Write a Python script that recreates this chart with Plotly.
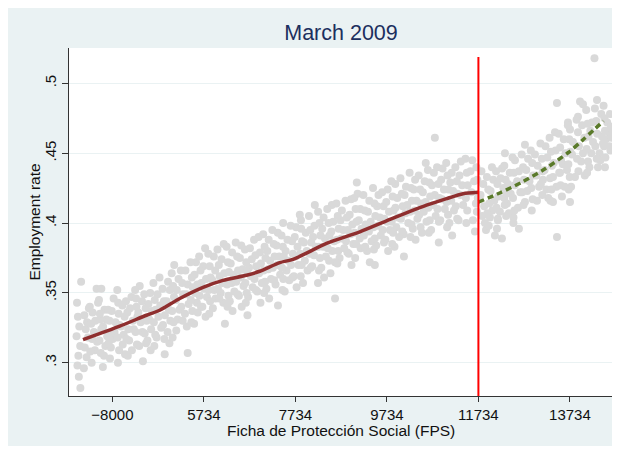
import plotly.graph_objects as go

# ---------------- data ----------------
title_text = "March 2009"
x_label = "Ficha de Protección Social (FPS)"
y_label = "Employment rate"

x_tick_vals = [3734, 5734, 7734, 9734, 11734, 13734]
x_tick_text = ["\u22128000", "5734", "7734", "9734", "11734", "13734"]
y_tick_vals = [0.30, 0.35, 0.40, 0.45, 0.50]
y_tick_text = [".3", ".35", ".4", ".45", ".5"]

cutoff = 11734

fps_a = [
    3050, 2960, 2980, 3010, 2950, 3030, 2990, 2970, 3000, 3033,
    3120, 3180, 3150, 3200, 3130, 3170, 3110, 3220,
    3388, 3300, 3360, 3330, 3400, 3350, 3526, 3420,
    3492, 3560, 3600, 3530, 3620, 3580, 3550,
    3760, 3720, 3800, 3780, 3740, 3855, 3700,
    3950, 4000, 3920, 3980, 3960, 4010,
    4150, 4120, 4180, 4200, 4100, 4160,
    4331, 4380, 4300, 4350, 4390, 4320, 4401,
    4560, 4520, 4600, 4540, 4580, 4500, 4570,
    4764, 4720, 4780, 4740, 4800, 4700, 4877,
    4950, 4990, 4920, 4970, 5000, 4940, 4980,
    5085, 5180, 5140, 5120, 5200, 5160, 5130,
    5330, 5380, 5350, 5400, 5320, 5360, 5379,
    5560, 5530, 5590, 5540, 5580, 5600, 5520,
    5760, 5720, 5780, 5740, 5800, 5700, 5770,
    5950, 5980, 5920, 5960, 5990, 5930,
    6167, 6120, 6180, 6140, 6100, 6160, 6193,
    6350, 6320, 6380, 6340, 6400, 6300, 6360,
    6550, 6520, 6580, 6540, 6600, 6500, 6560,
    6740, 6780, 6720, 6760, 6800, 6700, 6686,
    6929, 6960, 6980, 6940, 7000, 6900, 6970,
    7150, 7120, 7180, 7140, 7200, 7100, 7160,
    7350, 7320, 7380, 7340, 7400, 7300, 7353,
    7466, 7560, 7520, 7580, 7540, 7600, 7500,
    7750, 7720, 7780, 7740, 7800, 7700, 7760,
    7855, 7960, 7920, 7980, 7940, 8000, 7900,
    8158, 8150, 8120, 8180, 8140, 8100, 8228,
    8350, 8320, 8380, 8340, 8400, 8300, 8360,
    8530, 8560, 8520, 8580, 8540, 8600, 8500,
    8750, 8720, 8780, 8740, 8800, 8700, 8600,
    8950, 8920, 8980, 8940, 9000, 8900, 8960,
    9076, 9093, 9150, 9120, 9180, 9140, 9160,
    9350, 9320, 9380, 9340, 9400, 9300, 9360,
    9550, 9520, 9580, 9540, 9600, 9500, 9470,
    9750, 9720, 9780, 9740, 9800, 9700, 9760,
    9916, 9960, 9920, 9980, 9940, 10000, 9900,
    10150, 10120, 10180, 10140, 10200, 10100, 10106,
    10350, 10320, 10380, 10340, 10400, 10300, 10360,
    10583, 10560, 10520, 10580, 10540, 10600, 10500,
    10782, 10760, 10720, 10780, 10740, 10800, 10700,
    10950, 10920, 10980, 10940, 11000, 10900, 10868,
    11150, 11120, 11180, 11140, 11200, 11100, 11160,
    11350, 11320, 11380, 11340, 11400, 11300,
    11600, 11560, 11640, 11580, 11680, 11614, 11658,
    11800, 11840, 11780, 11860, 11820, 11877, 11900,
    12030, 12060, 12000, 12080, 12040, 11986, 12095,
    12250, 12220, 12280, 12300, 12204, 12160, 12248,
    12314, 12420, 12380, 12440, 12357, 12400,
    12533, 12620, 12580, 12650, 12598, 12500, 12620,
    12751, 12820, 12780, 12850, 12800, 12751,
    12970, 13030, 13000, 13060, 13014,
    13200, 13240, 13180, 13145, 13220, 13260,
    13451, 13408, 13420, 13380, 13364, 13440, 13364, 13451,
    13692, 13600, 13640, 13580, 13517, 13620, 13560,
    13911, 13736, 13800, 13780, 13670, 13845, 13760, 13736,
    13955, 14020, 14000, 14050, 14020, 13980, 14060,
    14271, 14217, 14180, 14240, 14200, 14160,
    14326, 14420, 14435, 14457, 14380, 14348, 14400,
    14550, 14580, 14520, 14600, 14500,
]

employment_a = [
    0.358, 0.343, 0.333, 0.326, 0.319, 0.312, 0.305, 0.298, 0.290, 0.282,
    0.334, 0.329, 0.324, 0.318, 0.311, 0.304, 0.296, 0.339,
    0.353, 0.336, 0.330, 0.322, 0.315, 0.309, 0.297, 0.343,
    0.353, 0.338, 0.331, 0.326, 0.319, 0.312, 0.305,
    0.346, 0.337, 0.329, 0.322, 0.317, 0.300, 0.311,
    0.341, 0.333, 0.326, 0.320, 0.313, 0.306,
    0.347, 0.339, 0.330, 0.324, 0.316, 0.309,
    0.355, 0.344, 0.336, 0.329, 0.322, 0.312, 0.301,
    0.350, 0.342, 0.337, 0.331, 0.324, 0.316, 0.309,
    0.361, 0.349, 0.341, 0.333, 0.325, 0.318, 0.306,
    0.358, 0.352, 0.344, 0.338, 0.330, 0.322, 0.314,
    0.370, 0.360, 0.352, 0.345, 0.338, 0.331, 0.323,
    0.366, 0.356, 0.349, 0.342, 0.335, 0.326, 0.307,
    0.372, 0.363, 0.356, 0.350, 0.343, 0.336, 0.328,
    0.382, 0.369, 0.360, 0.353, 0.347, 0.340, 0.333,
    0.376, 0.366, 0.359, 0.352, 0.346, 0.339,
    0.385, 0.374, 0.364, 0.357, 0.350, 0.343, 0.328,
    0.379, 0.371, 0.363, 0.357, 0.351, 0.344, 0.337,
    0.384, 0.375, 0.367, 0.361, 0.355, 0.348, 0.340,
    0.382, 0.374, 0.368, 0.362, 0.354, 0.347, 0.334,
    0.390, 0.379, 0.371, 0.364, 0.357, 0.351, 0.343,
    0.388, 0.380, 0.373, 0.367, 0.360, 0.353, 0.346,
    0.393, 0.384, 0.376, 0.370, 0.363, 0.356, 0.341,
    0.400, 0.388, 0.380, 0.373, 0.366, 0.359, 0.351,
    0.397, 0.390, 0.383, 0.376, 0.370, 0.362, 0.354,
    0.402, 0.393, 0.386, 0.380, 0.373, 0.366, 0.357,
    0.413, 0.398, 0.390, 0.383, 0.377, 0.369, 0.357,
    0.404, 0.396, 0.389, 0.383, 0.376, 0.368, 0.361,
    0.413, 0.401, 0.394, 0.387, 0.380, 0.372, 0.364,
    0.409, 0.402, 0.395, 0.389, 0.382, 0.375, 0.346,
    0.417, 0.406, 0.399, 0.392, 0.385, 0.378, 0.370,
    0.429, 0.421, 0.410, 0.402, 0.396, 0.389, 0.382,
    0.416, 0.408, 0.401, 0.394, 0.387, 0.380, 0.372,
    0.420, 0.412, 0.404, 0.398, 0.391, 0.384, 0.370,
    0.424, 0.415, 0.408, 0.401, 0.395, 0.388, 0.380,
    0.428, 0.418, 0.411, 0.404, 0.397, 0.390, 0.383,
    0.426, 0.420, 0.413, 0.407, 0.400, 0.392, 0.376,
    0.431, 0.424, 0.416, 0.409, 0.403, 0.396, 0.388,
    0.443, 0.430, 0.422, 0.415, 0.408, 0.401, 0.393,
    0.461, 0.436, 0.427, 0.420, 0.413, 0.405, 0.395,
    0.439, 0.431, 0.424, 0.417, 0.410, 0.402, 0.386,
    0.436, 0.429, 0.423, 0.416, 0.409, 0.400, 0.391,
    0.444, 0.434, 0.427, 0.420, 0.413, 0.402,
    0.445, 0.437, 0.430, 0.422, 0.414, 0.402, 0.394,
    0.437, 0.428, 0.420, 0.412, 0.405, 0.400, 0.395,
    0.440, 0.431, 0.423, 0.416, 0.409, 0.404, 0.391,
    0.439, 0.432, 0.425, 0.418, 0.408, 0.403, 0.389,
    0.450, 0.436, 0.428, 0.421, 0.414, 0.407,
    0.445, 0.437, 0.430, 0.422, 0.411, 0.404, 0.396,
    0.456, 0.446, 0.438, 0.430, 0.423, 0.415,
    0.449, 0.441, 0.434, 0.426, 0.416,
    0.455, 0.447, 0.438, 0.431, 0.424, 0.418,
    0.486, 0.465, 0.452, 0.443, 0.433, 0.426, 0.415, 0.390,
    0.472, 0.460, 0.450, 0.442, 0.436, 0.426, 0.419,
    0.476, 0.467, 0.458, 0.449, 0.438, 0.433, 0.426, 0.415,
    0.487, 0.485, 0.470, 0.461, 0.450, 0.444, 0.434,
    0.518, 0.472, 0.466, 0.458, 0.450, 0.440,
    0.488, 0.478, 0.462, 0.457, 0.450, 0.440, 0.445,
    0.472, 0.465, 0.460, 0.455, 0.440,
]

# further bin means read between the columns above
fps_b = [
    3240, 3270, 3290, 3250, 3280,
    3440, 3470, 3490, 3450, 3480, 3460,
    3640, 3670, 3690, 3650, 3680,
    3840, 3870, 3890, 3850, 3880, 3860,
    4030, 4060, 4080, 4040, 4070,
    4230, 4260, 4280, 4240, 4270, 4250,
    4430, 4460, 4480, 4440, 4470,
    4630, 4660, 4680, 4640, 4670, 4650,
    4830, 4860, 4880, 4840, 4870,
    5030, 5060, 5080, 5040, 5070, 5050,
    5230, 5260, 5280, 5240, 5270,
    5440, 5470, 5490, 5450, 5480, 5460,
    5630, 5660, 5680, 5640, 5670,
    5830, 5860, 5880, 5840, 5870, 5850,
    6030, 6060, 6080, 6040, 6070,
    6230, 6260, 6280, 6240, 6270, 6250,
    6430, 6460, 6480, 6440, 6470,
    6630, 6660, 6680, 6640, 6670, 6650,
    6830, 6860, 6880, 6840, 6870,
    7030, 7060, 7080, 7040, 7070, 7050,
    7230, 7260, 7280, 7240, 7270,
    7430, 7460, 7480, 7440, 7470, 7450,
    7630, 7660, 7680, 7640, 7670,
    7830, 7860, 7880, 7840, 7870, 7850,
    8030, 8060, 8080, 8040, 8070,
    8230, 8260, 8280, 8240, 8270, 8250,
    8430, 8460, 8480, 8440, 8470,
    8630, 8660, 8680, 8640, 8670, 8650,
    8830, 8860, 8880, 8840, 8870,
    9020, 9050, 9070, 9030, 9060, 9040,
    9220, 9250, 9270, 9230, 9260,
    9430, 9460, 9480, 9440, 9470, 9450,
    9630, 9660, 9680, 9640, 9670,
    9830, 9860, 9880, 9840, 9870, 9850,
    10030, 10060, 10080, 10040, 10070,
    10230, 10260, 10280, 10240, 10270, 10250,
    10430, 10460, 10480, 10440, 10470,
    10630, 10660, 10680, 10640, 10670, 10650,
    10830, 10860, 10880, 10840, 10870,
    11030, 11060, 11080, 11040, 11070, 11050,
    11230, 11260, 11280, 11240, 11270,
    11450, 11480, 11500, 11460, 11490, 11470,
    11690, 11710, 11720, 11700,
    11920, 11950, 11970, 11930, 11960,
    12120, 12150, 12170, 12130, 12160, 12140,
    12300, 12330, 12350, 12310, 12340,
    12480, 12510, 12530, 12490, 12520, 12500,
    12680, 12710, 12730, 12690, 12720,
    12880, 12910, 12930, 12890, 12920, 12900,
    13090, 13120, 13140, 13100, 13130,
    13290, 13320, 13340, 13300, 13330, 13310,
    13490, 13520, 13540, 13500, 13530,
    13690, 13720, 13740, 13700, 13730, 13710,
    13880, 13910, 13930, 13890, 13920,
    14090, 14120, 14140, 14100, 14130, 14110,
    14280, 14310, 14330, 14290, 14320,
    14470, 14490, 14500, 14480, 14510,
    14610, 14630, 14640, 14620,
]

employment_b = [
    0.340, 0.328, 0.317, 0.308, 0.300,
    0.345, 0.331, 0.324, 0.316, 0.307, 0.335,
    0.338, 0.330, 0.321, 0.314, 0.303,
    0.352, 0.335, 0.327, 0.318, 0.309, 0.343,
    0.344, 0.336, 0.324, 0.317, 0.305,
    0.352, 0.340, 0.333, 0.322, 0.313, 0.346,
    0.349, 0.339, 0.330, 0.321, 0.314,
    0.357, 0.345, 0.338, 0.329, 0.320, 0.312,
    0.353, 0.344, 0.334, 0.327, 0.317,
    0.364, 0.355, 0.347, 0.337, 0.329, 0.318,
    0.366, 0.357, 0.349, 0.340, 0.330,
    0.372, 0.361, 0.354, 0.345, 0.337, 0.329,
    0.376, 0.366, 0.357, 0.348, 0.340,
    0.378, 0.369, 0.361, 0.352, 0.344, 0.335,
    0.381, 0.370, 0.362, 0.353, 0.346,
    0.383, 0.372, 0.365, 0.356, 0.348, 0.340,
    0.386, 0.376, 0.366, 0.358, 0.349,
    0.381, 0.372, 0.365, 0.357, 0.350, 0.343,
    0.388, 0.377, 0.369, 0.360, 0.352,
    0.392, 0.383, 0.375, 0.366, 0.358, 0.350,
    0.395, 0.385, 0.376, 0.368, 0.359,
    0.391, 0.383, 0.376, 0.368, 0.360, 0.352,
    0.398, 0.387, 0.378, 0.370, 0.361,
    0.406, 0.396, 0.387, 0.378, 0.370, 0.362,
    0.405, 0.395, 0.386, 0.378, 0.368,
    0.408, 0.400, 0.391, 0.383, 0.375, 0.366,
    0.410, 0.400, 0.391, 0.382, 0.373,
    0.414, 0.405, 0.396, 0.388, 0.380, 0.371,
    0.416, 0.404, 0.395, 0.387, 0.379,
    0.418, 0.410, 0.401, 0.393, 0.385, 0.375,
    0.420, 0.409, 0.399, 0.391, 0.383,
    0.425, 0.414, 0.405, 0.397, 0.389, 0.381,
    0.422, 0.412, 0.403, 0.395, 0.386,
    0.430, 0.419, 0.409, 0.401, 0.393, 0.385,
    0.432, 0.421, 0.412, 0.403, 0.394,
    0.436, 0.425, 0.416, 0.408, 0.399, 0.390,
    0.434, 0.424, 0.414, 0.406, 0.397,
    0.438, 0.429, 0.419, 0.411, 0.402, 0.393,
    0.440, 0.428, 0.418, 0.410, 0.401,
    0.443, 0.434, 0.424, 0.415, 0.406, 0.397,
    0.440, 0.430, 0.421, 0.412, 0.403,
    0.446, 0.436, 0.427, 0.418, 0.409, 0.400,
    0.440, 0.431, 0.418, 0.408,
    0.433, 0.424, 0.414, 0.407, 0.398,
    0.437, 0.428, 0.419, 0.411, 0.402, 0.396,
    0.441, 0.431, 0.422, 0.413, 0.405,
    0.447, 0.436, 0.427, 0.418, 0.409, 0.400,
    0.449, 0.440, 0.431, 0.422, 0.413,
    0.452, 0.443, 0.434, 0.425, 0.417, 0.409,
    0.457, 0.446, 0.437, 0.428, 0.420,
    0.461, 0.451, 0.441, 0.432, 0.424, 0.416,
    0.464, 0.454, 0.445, 0.436, 0.427,
    0.470, 0.460, 0.451, 0.442, 0.433, 0.424,
    0.474, 0.465, 0.455, 0.446, 0.437,
    0.481, 0.471, 0.462, 0.453, 0.444, 0.436,
    0.482, 0.473, 0.464, 0.455, 0.446,
    0.484, 0.475, 0.466, 0.455, 0.447,
    0.478, 0.469, 0.461, 0.452,
]

# fitted curve left of cutoff (solid) and right of cutoff (dashed)
fit_left_x = [3091, 3894, 4478, 4768, 5206, 5715, 6152, 6664, 6955, 7392,
              7683, 8414, 9142, 9870, 10600, 11037, 11400, 11734]
fit_left_y = [0.3165, 0.3262, 0.3340, 0.3376, 0.3460, 0.3540, 0.3590, 0.3626,
              0.3655, 0.3717, 0.3740, 0.3854, 0.3937, 0.4035, 0.4128, 0.4175,
              0.4210, 0.4220]
fit_right_x = [11734, 12200, 12700, 13200, 13700, 14000, 14250, 14470]
fit_right_y = [0.4150, 0.4215, 0.4295, 0.4390, 0.4505, 0.4590, 0.4665, 0.4730]

fps = fps_a + fps_b
employment = employment_a + employment_b
assert len(fps_a) == len(employment_a) and len(fps_b) == len(employment_b)

# ---------------- figure ----------------
BG = "#eaf2f3"
FIG_W, FIG_H = 607, 438
L, R, T, B = 61, 2, 40, 50
W, H = FIG_W - L - R, FIG_H - T - B


def px_to_paper_x(p):  # p: pixel inside the figure
    return (p - L) / W


def px_to_paper_y(p):
    return (FIG_H - B - p) / H


fig = go.Figure()

fig.add_trace(go.Scatter(
    x=fps, y=employment, mode="markers",
    marker=dict(size=8, color="#d9d9d9", line=dict(width=0)),
    hoverinfo="skip", showlegend=False))

fig.add_trace(go.Scatter(
    x=fit_left_x, y=fit_left_y, mode="lines",
    line=dict(color="#8f2f2f", width=3.5, shape="spline", smoothing=0.6),
    showlegend=False))

fig.add_trace(go.Scatter(
    x=fit_right_x, y=fit_right_y, mode="lines",
    line=dict(color="#5a7a2a", width=3.5, shape="spline", smoothing=0.8,
              dash="6px,4px"),
    showlegend=False))

# cutoff line
fig.add_shape(type="line", xref="x", yref="y", x0=cutoff, x1=cutoff,
              y0=0.2762, y1=0.5188, line=dict(color="#ff0000", width=2),
              layer="above")

font_family = "Liberation Sans, Arial, sans-serif"

fig.add_annotation(text=y_label, xref="paper", yref="paper",
                   x=px_to_paper_x(25.5), y=0.5, textangle=-90,
                   showarrow=False, xanchor="center", yanchor="middle",
                   font=dict(family=font_family, size=15.5, color="#111111"))
fig.add_annotation(text=x_label, xref="paper", yref="paper",
                   x=0.5, y=px_to_paper_y(422),
                   showarrow=False, xanchor="center", yanchor="middle",
                   font=dict(family=font_family, size=15.5, color="#111111"))

fig.update_layout(
    width=FIG_W, height=FIG_H,
    margin=dict(l=L, r=R, t=T, b=B, pad=0, autoexpand=False),
    paper_bgcolor=BG, plot_bgcolor="white",
    title=dict(text=title_text, x=0.5, xref="paper", xanchor="center",
               y=1 - 24 / FIG_H, yanchor="middle",
               font=dict(family=font_family, size=21.5, color="#1c2f5e")),
    showlegend=False,
    xaxis=dict(range=[2785, 14676], tickmode="array",
               tickvals=x_tick_vals, ticktext=x_tick_text,
               ticks="outside", ticklen=5, tickwidth=1, tickcolor="#333333",
               showline=True, linecolor="#333333", linewidth=1,
               showgrid=False, zeroline=False, mirror=False, automargin=False,
               tickfont=dict(family=font_family, size=15, color="#111111")),
    yaxis=dict(range=[0.2762, 0.5253], tickmode="array",
               tickvals=y_tick_vals, ticktext=y_tick_text,
               ticks="outside", ticklen=6, tickwidth=1, tickcolor="#333333",
               showline=True, linecolor="#333333", linewidth=1,
               showgrid=True, gridcolor=BG, gridwidth=1, automargin=False,
               zeroline=False, tickangle=-90,
               tickfont=dict(family=font_family, size=15, color="#111111")),
)

fig.write_html("out.html", config={"displayModeBar": False})
